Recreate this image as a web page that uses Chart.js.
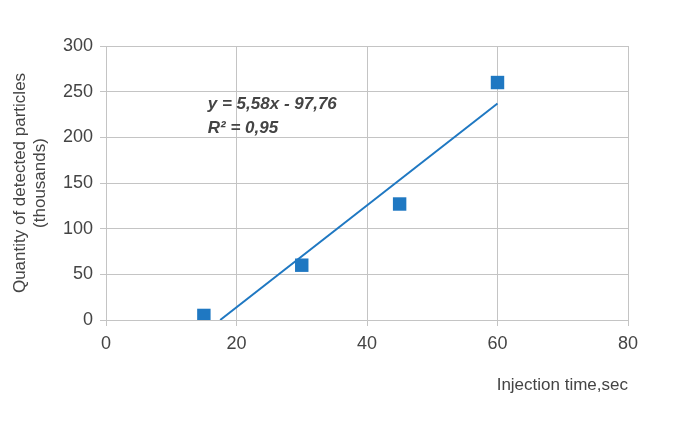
<!DOCTYPE html>
<html>
<head>
<meta charset="utf-8">
<script src="https://cdn.jsdelivr.net/npm/chart.js@4"></script>
<style>
  html, body { margin: 0; padding: 0; background: #fff; }
  #wrap { width: 681px; height: 432px; }
</style>
</head>
<body>
<div id="wrap"><canvas id="chart" width="681" height="432"></canvas></div>
<script>
// measured points (injection time, thousands of particles)
const injectionTime = [15, 30, 45, 60];
const particles = [5, 60, 127, 260];

// linear trendline ends
const trendX = [17.5, 60];
const trendY = [0, 237];

const equationLines = ["y = 5,58x - 97,76", "R² = 0,95"];

const xTicks = [0, 20, 40, 60, 80];
const yTicks = [0, 50, 100, 150, 200, 250, 300];

const blue = "#1f78c2";
const grey = "#c4c4c4";
const textCol = "#444";

const toPoints = (xs, ys) => xs.map((x, i) => ({ x: x, y: ys[i] }));

// writes the trendline label in data space
const equationLabel = {
  id: "equationLabel",
  afterDatasetsDraw(chart) {
    const { ctx, scales } = chart;
    const x = scales.x.getPixelForValue(15.6);
    const y = scales.y.getPixelForValue(236);
    ctx.save();
    ctx.font = "italic bold 17px 'Liberation Sans', Arial, sans-serif";
    ctx.fillStyle = textCol;
    ctx.textBaseline = "middle";
    equationLines.forEach((t, i) => ctx.fillText(t, x, y + i * 24));
    ctx.restore();
  },
};

Chart.defaults.font.family = "'Liberation Sans', Arial, sans-serif";
Chart.defaults.color = textCol;

new Chart(document.getElementById("chart"), {
  type: "scatter",
  data: {
    datasets: [
      {
        data: toPoints(injectionTime, particles),
        pointStyle: "rect",
        pointRadius: 9.5,
        backgroundColor: blue,
        borderColor: blue,
        borderWidth: 0,
        order: 0,
      },
      {
        type: "line",
        data: toPoints(trendX, trendY),
        borderColor: blue,
        borderWidth: 2,
        pointRadius: 0,
        fill: false,
        order: 1,
      },
    ],
  },
  options: {
    responsive: false,
    animation: false,
    layout: { padding: { left: 6, right: 53, top: 46, bottom: 32 } },
    plugins: { legend: { display: false }, tooltip: { enabled: false } },
    scales: {
      x: {
        type: "linear",
        min: 0,
        max: 80,
        afterBuildTicks: (s) => { s.ticks = xTicks.map((v) => ({ value: v })); },
        afterFit: (s) => { s.height = 80; },
        grid: { color: grey, tickLength: 6 },
        border: { color: grey },
        ticks: { font: { size: 18 }, padding: 7 },
        title: {
          display: true,
          text: "Injection time,sec",
          align: "end",
          font: { size: 17 },
        },
      },
      y: {
        min: 0,
        max: 300,
        afterBuildTicks: (s) => { s.ticks = yTicks.map((v) => ({ value: v })); },
        afterFit: (s) => { s.width = 100; },
        grid: { color: grey, tickLength: 6 },
        border: { color: grey },
        ticks: { font: { size: 18 }, padding: 7 },
        title: {
          display: true,
          text: ["Quantity of detected particles", "(thousands)"],
          font: { size: 17, lineHeight: 1.2 },
        },
      },
    },
  },
  plugins: [equationLabel],
});
</script>
</body>
</html>
